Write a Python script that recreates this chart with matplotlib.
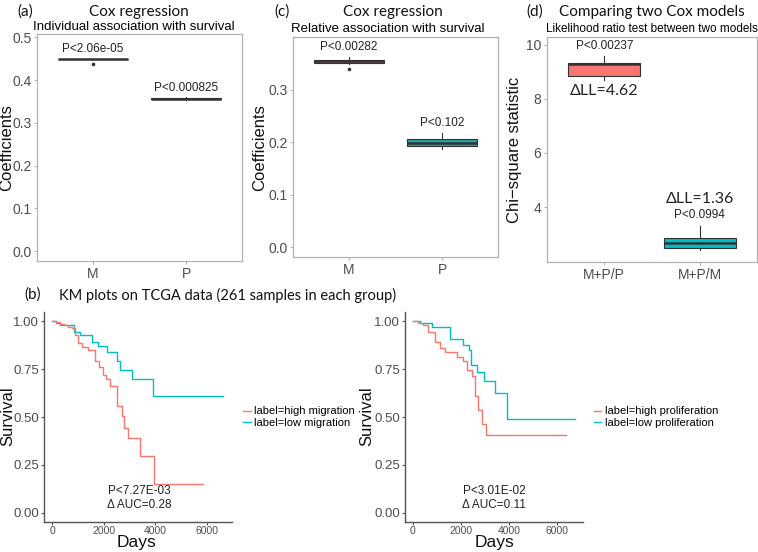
import numpy as np
import matplotlib.pyplot as plt
from matplotlib.lines import Line2D

plt.close('all')
plt.rcParams['font.family'] = ['Liberation Sans', 'DejaVu Sans']

W, H = 758, 552
RED = '#F8766D'
TEAL = '#00BFC4'
TITLE_FONT = ['Lato', 'DejaVu Sans']

# (a) individual association: box stats for M and P
a_groups = ['M', 'P']
a_q1 = [0.4500, 0.3550]
a_med = [0.4500, 0.3570]
a_q3 = [0.4500, 0.3590]
a_lo = [0.4500, 0.3545]
a_hi = [0.4500, 0.3595]
a_out = [[0.4386], []]
a_pval = ['P<2.06e-05', 'P<0.000825']

# (c) relative association
c_groups = ['M', 'P']
c_q1 = [0.3505, 0.1925]
c_med = [0.3550, 0.1990]
c_q3 = [0.3580, 0.2065]
c_lo = [0.3500, 0.1880]
c_hi = [0.3630, 0.2180]
c_out = [[0.3390], []]
c_pval = ['P<0.00282', 'P<0.102']

# (d) likelihood ratio test
d_groups = ['M+P/P', 'M+P/M']
d_q1 = [8.85, 2.50]
d_med = [9.27, 2.66]
d_q3 = [9.32, 2.87]
d_lo = [8.68, 2.40]
d_hi = [9.57, 3.30]
d_pval = ['P<0.00237', 'P<0.0994']
d_dll = ['\u0394LL=4.62', '\u0394LL=1.36']

# (b) KM curves (step points: days, survival)
mig_high_t = [0, 150, 300, 440, 600, 760, 890, 1020, 1150, 1410, 1670, 1835, 1990, 2100,
              2250, 2530, 2700, 2800, 2960, 3410, 3950, 5860]
mig_high_s = [1.0, 0.995, 0.985, 0.979, 0.97, 0.962, 0.927, 0.884, 0.867, 0.85, 0.79, 0.763,
              0.72, 0.70, 0.66, 0.556, 0.504, 0.444, 0.392, 0.297, 0.15, 0.15]
mig_low_t = [0, 150, 300, 830, 1085, 1540, 1795, 2120, 2520, 2650, 3090, 3930, 6640]
mig_low_s = [1.0, 0.99, 0.978, 0.945, 0.925, 0.893, 0.87, 0.84, 0.79, 0.745, 0.70, 0.61, 0.61]

pro_high_t = [0, 200, 440, 650, 930, 1140, 1350, 1830, 2110, 2250, 2460, 2600, 2730, 2870,
              3050, 6390]
pro_high_s = [1.0, 0.99, 0.979, 0.945, 0.893, 0.86, 0.84, 0.815, 0.79, 0.746, 0.711, 0.608,
              0.539, 0.461, 0.404, 0.404]
pro_low_t = [0, 300, 790, 1550, 2110, 2320, 2415, 2670, 2970, 3430, 3920, 6730]
pro_low_s = [1.0, 0.99, 0.968, 0.905, 0.876, 0.85, 0.772, 0.732, 0.685, 0.625, 0.49, 0.49]

km_stats = [('P<7.27E-03', '\u0394 AUC=0.28'), ('P<3.01E-02', '\u0394 AUC=0.11')]
km_labels = [('label=high migration', 'label=low migration'),
             ('label=high proliferation', 'label=low proliferation')]

fig = plt.figure(figsize=(W / 100, H / 100), dpi=100)


def px_axes(l, t, r, b):
    return fig.add_axes([l / W, 1 - b / H, (r - l) / W, (b - t) / H])


def ftext(x, y, s, **kw):
    fig.text(x / W, 1 - y / H, s, **kw)


def style_box_axes(ax):
    for sp in ax.spines.values():
        sp.set_color('#B3B3B3')
        sp.set_linewidth(0.9)
    ax.tick_params(colors='#B3B3B3', labelcolor='#4D4D4D', labelsize=10, length=2.5,
                   width=0.8, pad=1.5)


def draw_boxes(ax, q1, med, q3, lo, hi, out, colors, edge='#333333'):
    stats = []
    for i in range(len(q1)):
        stats.append(dict(q1=q1[i], med=med[i], q3=q3[i], whislo=lo[i], whishi=hi[i],
                          fliers=out[i]))
    bp = ax.bxp(stats, positions=[1, 2], widths=0.75, patch_artist=True, showcaps=False,
                boxprops=dict(edgecolor=edge, linewidth=0.8),
                medianprops=dict(color=edge, linewidth=1.8),
                whiskerprops=dict(color=edge, linewidth=0.8),
                flierprops=dict(marker='o', markersize=1.6, markerfacecolor=edge,
                                markeredgecolor=edge))
    for patch, c in zip(bp['boxes'], colors):
        patch.set_facecolor(c)
    ax.set_xlim(0.4, 2.6)


# ---- (a)
ax = px_axes(37, 34, 242, 261)
draw_boxes(ax, a_q1, a_med, a_q3, a_lo, a_hi, a_out, ['#3a3a3a', '#1d8e8e'])
ax.set_ylim(-0.023, 0.508)
ax.set_yticks([0.0, 0.1, 0.2, 0.3, 0.4, 0.5])
ax.set_xticks([1, 2], a_groups)
style_box_axes(ax)
for i, p in enumerate(a_pval):
    ax.text(i + 1, a_hi[i] + 0.008, p, ha='center', va='bottom', fontsize=8.5, color='#222222')

# ---- (c)
ax = px_axes(293, 37, 498, 257)
draw_boxes(ax, c_q1, c_med, c_q3, c_lo, c_hi, c_out, ['#b8675f', '#22a3a5'])
ax.set_ylim(-0.019, 0.401)
ax.set_yticks([0.0, 0.1, 0.2, 0.3])
ax.set_xticks([1, 2], c_groups)
style_box_axes(ax)
for i, p in enumerate(c_pval):
    ax.text(i + 1, c_hi[i] + 0.008, p, ha='center', va='bottom', fontsize=8.5, color='#222222')

# ---- (d)
ax = px_axes(547, 37, 757, 262)
draw_boxes(ax, d_q1, d_med, d_q3, d_lo, d_hi, [[], []], [RED, TEAL])
ax.set_ylim(1.97, 10.28)
ax.set_yticks([4, 6, 8, 10])
ax.set_xticks([1, 2], d_groups)
style_box_axes(ax)
ax.text(1, d_hi[0] + 0.15, d_pval[0], ha='center', va='bottom', fontsize=8.5, color='#222222')
ax.text(1, d_lo[0] - 0.12, d_dll[0], ha='center', va='top', fontsize=11.5, color='#222222',
        family=TITLE_FONT)
ax.text(2, d_hi[1] + 0.2, d_pval[1], ha='center', va='bottom', fontsize=8.5, color='#222222')
ax.text(2, d_hi[1] + 0.75, d_dll[1], ha='center', va='bottom', fontsize=11.5, color='#222222',
        family=TITLE_FONT)

# ---- (b) KM plots
km_boxes = [(44, 312, 232, 522), (405, 312, 583, 522)]
km_curves = [((mig_high_t, mig_high_s), (mig_low_t, mig_low_s)),
             ((pro_high_t, pro_high_s), (pro_low_t, pro_low_s))]
for k in range(2):
    ax = px_axes(*km_boxes[k])
    (ht, hs), (lt, ls) = km_curves[k]
    ax.step(lt, ls, where='post', color=TEAL, lw=1.0)
    ax.step(ht, hs, where='post', color=RED, lw=1.0)
    ax.set_xlim(-320, 6990 if k == 0 else 7080)
    ax.set_ylim(-0.047, 1.047)
    ax.set_xticks([0, 2000, 4000, 6000])
    ax.set_yticks([0, 0.25, 0.5, 0.75, 1.0], ['0.00', '0.25', '0.50', '0.75', '1.00'])
    for s in ['top', 'right']:
        ax.spines[s].set_visible(False)
    for s in ['left', 'bottom']:
        ax.spines[s].set_color('#555555')
        ax.spines[s].set_linewidth(1.0)
    ax.tick_params(axis='y', labelsize=9.5, colors='#555555', labelcolor='#4D4D4D', length=2,
                   pad=1.5)
    ax.tick_params(axis='x', labelsize=7.5, colors='#555555', labelcolor='#4D4D4D', length=2,
                   pad=0.8)
    ax.text(3380, 0.115, km_stats[k][0], ha='center', va='center', fontsize=8.5, color='#222222')
    ax.text(3380, 0.04, km_stats[k][1], ha='center', va='center', fontsize=8.5, color='#222222')
    handles = [Line2D([], [], color=RED, lw=1.0), Line2D([], [], color=TEAL, lw=1.0)]
    ax.legend(handles, km_labels[k], loc='center left', bbox_to_anchor=(1.035, 0.5),
              frameon=False, fontsize=8, handlelength=0.7, handletextpad=0.3,
              labelspacing=0.1, borderaxespad=0)

# ---- titles and axis labels
tk = dict(family=TITLE_FONT, fontsize=11, ha='center', va='center', color='#111111')
ftext(25, 12, '(a)', **tk)
ftext(139, 12, 'Cox regression', **tk)
ftext(134, 27, 'Individual association with survival', fontsize=9.5, ha='center', va='center')
ftext(282, 12, '(c)', **tk)
ftext(393, 12, 'Cox regression', **tk)
ftext(388, 29, 'Relative association with survival', fontsize=9.5, ha='center', va='center')
ftext(535, 12, '(d)', **tk)
ftext(652, 12, 'Comparing two Cox models', **tk)
ftext(652, 29, 'Likelihood ratio test between two models', fontsize=8.5, ha='center',
      va='center')
ftext(33, 295, '(b)', **tk)
ftext(59, 295, 'KM plots on TCGA data (261 samples in each group)',
      **dict(tk, ha='left', fontsize=10.5))

yl = dict(fontsize=12, rotation=90, ha='center', va='center', color='#111111')
ftext(6.5, 148, 'Coefficients', **yl)
ftext(260, 148, 'Coefficients', **yl)
ftext(515, 150, 'Chi\u2212square statistic', **yl)
ftext(8, 416, 'Survival', **yl)
ftext(367, 416, 'Survival', **yl)
ftext(137, 542, 'Days', fontsize=12.5, ha='center', va='center', color='#111111')
ftext(494, 542, 'Days', fontsize=12.5, ha='center', va='center', color='#111111')

fig.savefig('out.png', dpi=100)
